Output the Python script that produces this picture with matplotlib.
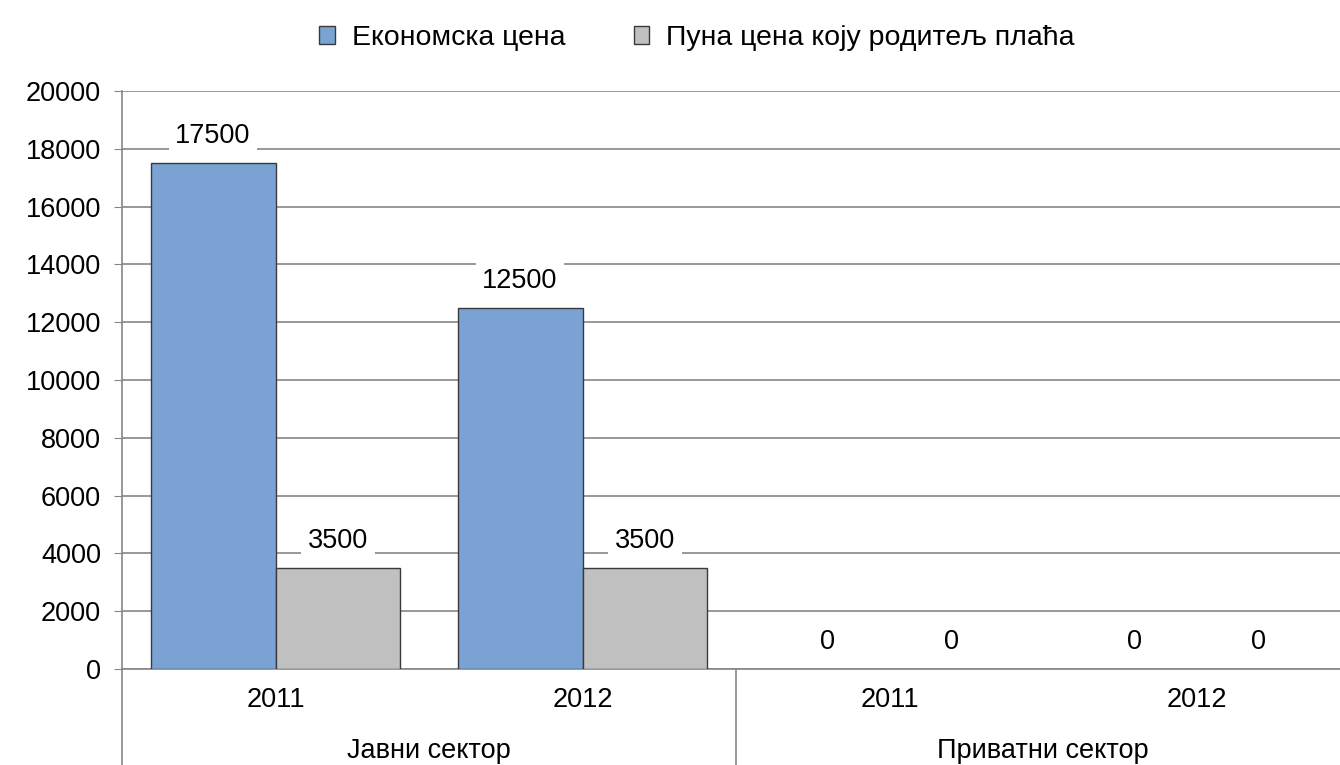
import matplotlib.pyplot as plt
import numpy as np

plt.rcParams['font.family'] = ['Liberation Sans', 'DejaVu Sans']

years = ["2011", "2012", "2011", "2012"]
sectors = ["Јавни сектор", "Приватни сектор"]
economic = [17500, 12500, 0, 0]
parent = [3500, 3500, 0, 0]
series_names = ["Економска цена", "Пуна цена коју родитељ плаћа"]

W, H = 1340, 765
fs = 19.5
fig = plt.figure(figsize=(W / 100, H / 100), dpi=100)
# axes: left 122px, right 1350px (past the edge), top 91px, bottom 669px
ax = fig.add_axes([122 / W, 1 - 669 / H, (1350 - 122) / W, (669 - 91) / H])

x = np.arange(len(years)) + 0.5
bw = 0.407
b1 = ax.bar(x - bw / 2, economic, bw, color="#7aa3d4", edgecolor="#3a3a3a",
            linewidth=1, label=series_names[0], zorder=3)
b2 = ax.bar(x + bw / 2, parent, bw, color="#c0c0c0", edgecolor="#3a3a3a",
            linewidth=1, label=series_names[1], zorder=3)

for bars in (b1, b2):
    for r in bars:
        if r.get_height() == 0:
            r.set_linewidth(0)
        ax.annotate(f"{int(r.get_height())}",
                    (r.get_x() + r.get_width() / 2, r.get_height()),
                    xytext=(0, 19.5), textcoords="offset points",
                    ha="center", va="center", fontsize=fs, zorder=4,
                    bbox=dict(boxstyle="square,pad=0.25", fc="white", ec="none"))

ax.set_xlim(0, 4)
ax.set_ylim(0, 20000)
ax.set_yticks(np.arange(0, 20001, 2000))
ax.tick_params(axis="y", labelsize=fs, length=6, color="#868686", pad=9)
ax.set_xticks([])
ax.yaxis.grid(True, color="#868686", linewidth=1.2, zorder=0)
for s in ("top", "right"):
    ax.spines[s].set_visible(False)
ax.spines["left"].set_color("#868686")
ax.spines["bottom"].set_color("#868686")
ax.spines["left"].set_linewidth(1.2)
ax.spines["bottom"].set_linewidth(1.2)

# two-level category axis
trans = ax.get_xaxis_transform()
for xi, yr in zip(x, years):
    ax.text(xi, -31 / 578, yr, transform=trans, ha="center", va="center", fontsize=fs)
for i, sec in enumerate(sectors):
    ax.text(2 * i + 1, -82 / 578, sec, transform=trans, ha="center", va="center", fontsize=fs)
for xs in (0, 2, 4):
    ax.plot([xs, xs], [0, -100 / 578], transform=trans, color="#868686",
            linewidth=1.2, clip_on=False)

fig.legend(handles=[b1, b2], labels=series_names, loc="center",
           bbox_to_anchor=(697 / W, 1 - 38 / H), ncol=2, frameon=False,
           fontsize=20.5, handlelength=0.55, handleheight=0.55, handletextpad=0.6,
           columnspacing=2.4)

fig.savefig("out.png", dpi=100)
